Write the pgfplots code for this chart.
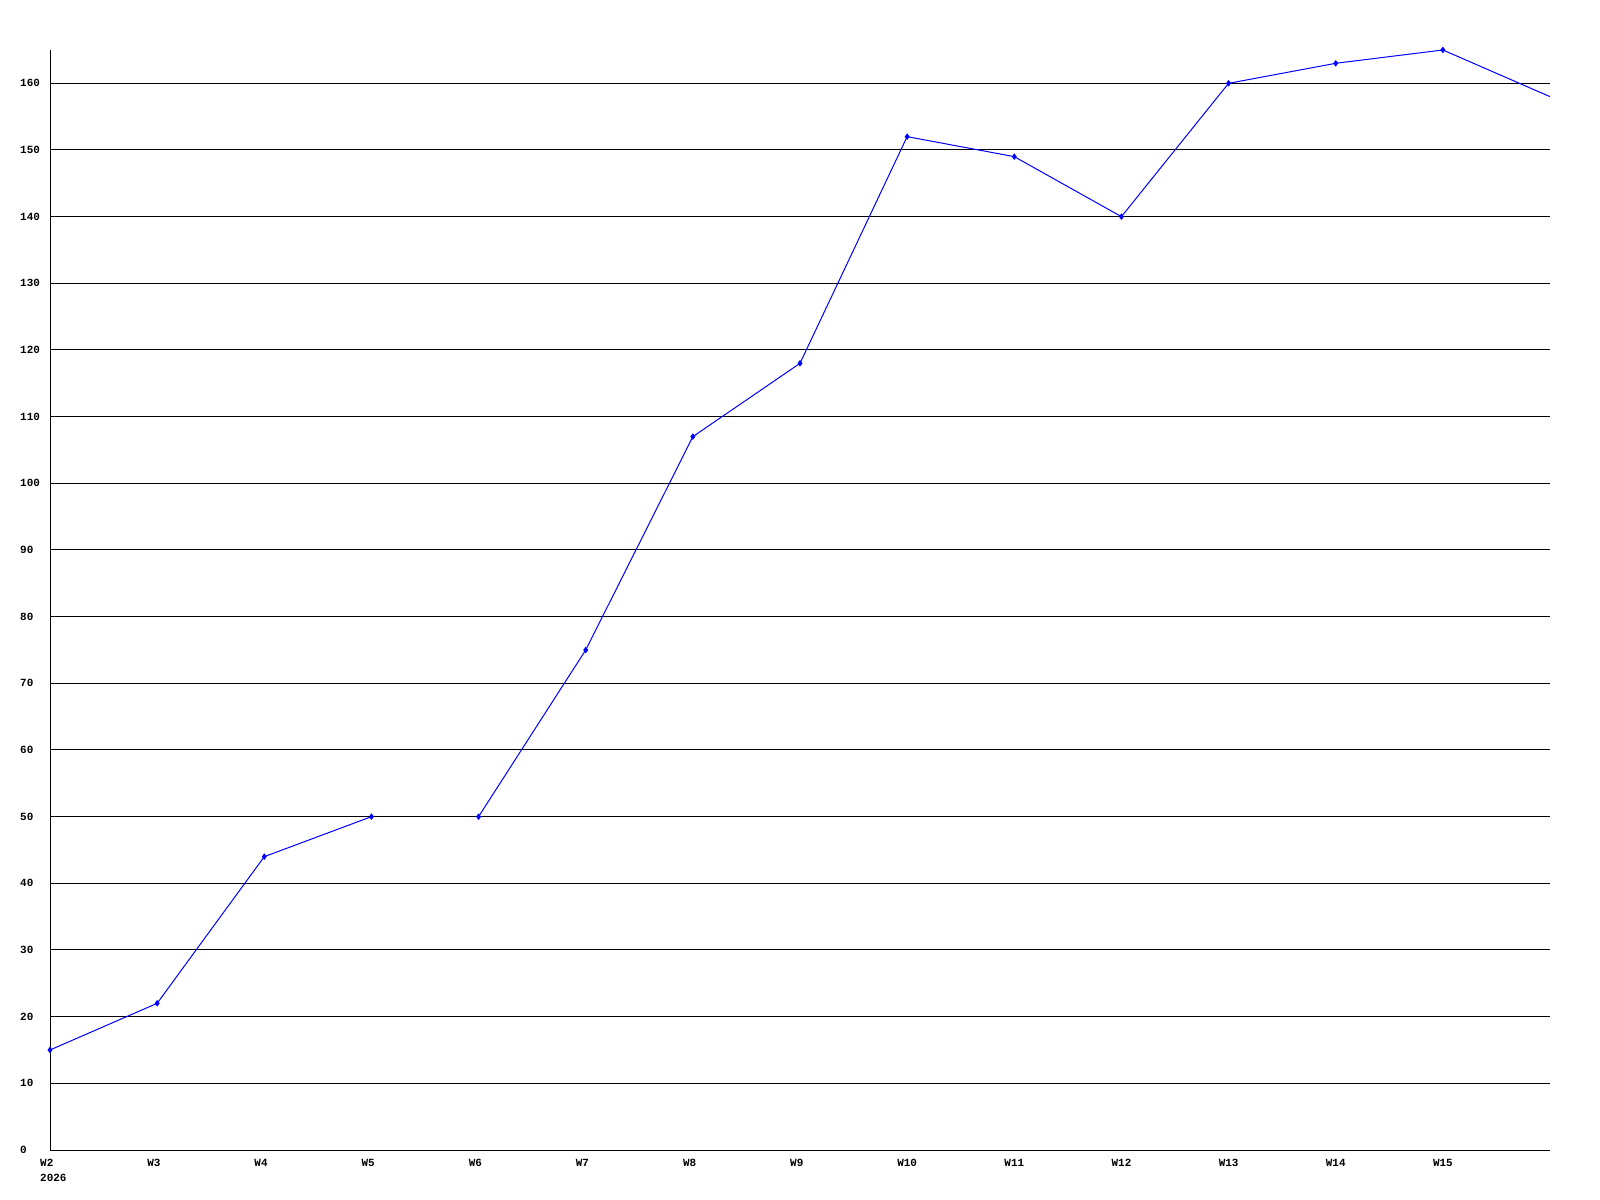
\documentclass[border=0pt]{standalone}
\usepackage{fontspec}
\setmonofont{Liberation Mono}
\usepackage{pgfplots}
\pgfplotsset{compat=1.18}
\begin{document}
\begin{tikzpicture}
\path[use as bounding box] (0,0) rectangle (1600bp,1200bp);
\begin{axis}[
  at={(50bp,50bp)}, anchor=south west,
  scale only axis, width=1500bp, height=1100bp,
  xmin=0, xmax=14, ymin=0, ymax=165,
  axis x line*=bottom, axis y line*=left,
  axis line style={-, line width=1bp, black},
  xtick={0,...,13},
  xticklabels={{W2\\2026},W3,W4,W5,W6,W7,W8,W9,W10,W11,W12,W13,W14,W15},
  ytick={0,10,...,160},
  major tick length=0pt,
  ymajorgrids,
  grid style={line width=1bp, black},
  /pgf/number format/assume math mode=true,
  tick label style={font=\ttfamily\bfseries\fontsize{11}{15}\selectfont},
  xticklabel style={anchor=north west, align=left, inner sep=0pt, xshift=-10bp, yshift=-9bp},
  yticklabel style={anchor=west, inner sep=0pt, xshift=-30bp},
]
\addplot[blue, line width=1bp, mark=diamond*, mark size=2.5bp] coordinates {
(0,15) (1,22) (2,44) (3,50)};
\addplot[blue, line width=1bp, mark=diamond*, mark size=2.5bp, mark indices={1,...,10}] coordinates {
(4,50) (5,75) (6,107) (7,118) (8,152) (9,149) (10,140) (11,160) (12,163) (13,165) (14,158)};
\end{axis}
\end{tikzpicture}
\end{document}
